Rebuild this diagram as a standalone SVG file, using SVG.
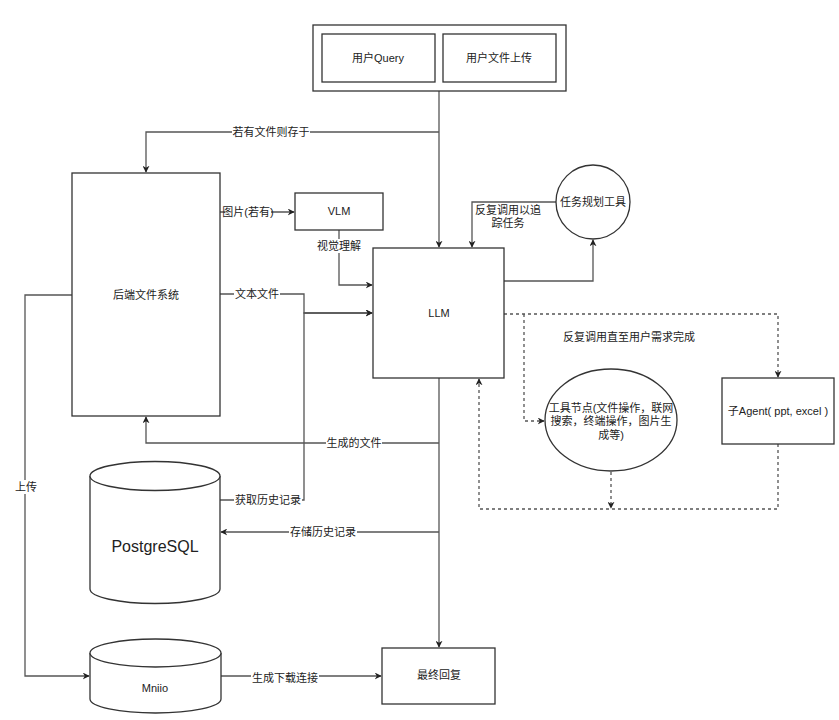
<svg xmlns="http://www.w3.org/2000/svg" width="839" height="720" viewBox="0 0 839 720">
<defs>
<marker id="arr" viewBox="0 0 10 10" refX="9" refY="5" markerWidth="7" markerHeight="7" orient="auto" markerUnits="userSpaceOnUse">
<path d="M0,0 L10,5 L0,10 L3,5 z" fill="#222"/>
</marker>
<style>
.n{fill:#fff;stroke:#333;stroke-width:1.3}
.t{font-family:"Liberation Sans","Noto Sans CJK SC",sans-serif;font-size:11px;fill:#222;text-anchor:middle;dominant-baseline:central}
.e{fill:none;stroke:#555;stroke-width:1.3}
.d{fill:none;stroke:#555;stroke-width:1.3;stroke-dasharray:3 3}
.lb{fill:#fff}
</style>
</defs>
<rect width="839" height="720" fill="#fff"/>
<g id="edges">
<path class="e" d="M439,91 V247" marker-end="url(#arr)"/>
<path class="e" d="M439,132 H146 V172" marker-end="url(#arr)"/>
<path class="e" d="M220,212 H294" marker-end="url(#arr)"/>
<path class="e" d="M339,230 V285 H372" marker-end="url(#arr)"/>
<path class="e" d="M220,294 H304 V313 H372" marker-end="url(#arr)"/>
<path class="e" d="M220,500 H304 V313 H372" marker-end="url(#arr)"/>
<path class="e" d="M504,281 H593 V240" marker-end="url(#arr)"/>
<path class="e" d="M556,202 H472 V247" marker-end="url(#arr)"/>
<path class="d" d="M504,314 H778 V377" marker-end="url(#arr)"/>
<path class="d" d="M524,314 V421 H544" marker-end="url(#arr)"/>
<path class="d" d="M611,472 V508" marker-end="url(#arr)"/>
<path class="d" d="M778,444 V509 H479 V379" marker-end="url(#arr)"/>
<path class="e" d="M439,378 V647" marker-end="url(#arr)"/>
<path class="e" d="M439,443 H146 V417" marker-end="url(#arr)"/>
<path class="e" d="M439,532 H221" marker-end="url(#arr)"/>
<path class="e" d="M72,295 H25 V676 H89" marker-end="url(#arr)"/>
<path class="e" d="M221,676 H381" marker-end="url(#arr)"/>
<rect class="lb" x="232" y="125" width="78" height="14"/>
<text class="t" x="271" y="132">若有文件则存于</text>
<rect class="lb" x="225" y="205" width="46" height="14"/>
<text class="t" x="248" y="212">图片(若有)</text>
<rect class="lb" x="316" y="239" width="46" height="14"/>
<text class="t" x="339" y="246">视觉理解</text>
<rect class="lb" x="234" y="287" width="46" height="14"/>
<text class="t" x="257" y="294">文本文件</text>
<rect class="lb" x="234" y="493" width="68" height="14"/>
<text class="t" x="268" y="500">获取历史记录</text>
<text class="t" x="508" y="210">反复调用以追</text>
<text class="t" x="508" y="223">踪任务</text>
<text class="t" x="629" y="337">反复调用直至用户需求完成</text>
<rect class="lb" x="326" y="436" width="56" height="14"/>
<text class="t" x="354" y="443">生成的文件</text>
<rect class="lb" x="289" y="525" width="68" height="14"/>
<text class="t" x="323" y="532">存储历史记录</text>
<rect class="lb" x="14" y="480" width="24" height="14"/>
<text class="t" x="26" y="487">上传</text>
<rect class="lb" x="251" y="671" width="68" height="14"/>
<text class="t" x="285" y="678">生成下载连接</text>
</g>
<g id="input">
<rect class="n" x="313" y="25" width="253" height="66"/>
</g>
<g id="query">
<rect class="n" x="322" y="34" width="113" height="48"/>
<text class="t" x="378" y="58">用户Query</text>
</g>
<g id="upload">
<rect class="n" x="443" y="34" width="113" height="48"/>
<text class="t" x="499" y="58">用户文件上传</text>
</g>
<g id="backend">
<rect class="n" x="72" y="173" width="148" height="243"/>
<text class="t" x="146" y="295">后端文件系统</text>
</g>
<g id="vlm">
<rect class="n" x="295" y="193" width="88" height="37"/>
<text class="t" x="339" y="211">VLM</text>
</g>
<g id="llm">
<rect class="n" x="373" y="248" width="131" height="130"/>
<text class="t" x="439" y="313">LLM</text>
</g>
<g id="planner">
<circle class="n" cx="593" cy="202" r="37"/>
<text class="t" x="593" y="202">任务规划工具</text>
</g>
<g id="tools">
<ellipse class="n" cx="611" cy="420" rx="66" ry="51"/>
<text class="t" x="611" y="408">工具节点(文件操作，联网</text>
<text class="t" x="611" y="421">搜索，终端操作，图片生</text>
<text class="t" x="611" y="435">成等)</text>
</g>
<g id="agent">
<rect class="n" x="722" y="378" width="112" height="66"/>
<text class="t" x="778" y="411">子Agent( ppt, excel )</text>
</g>
<g id="postgres">
<path class="n" d="M90,476 V589 A65,14.5 0 0 0 220,589 V476"/>
<ellipse class="n" cx="155" cy="476" rx="65" ry="14.5"/>
<text class="t" x="155" y="546" style="font-size:16px">PostgreSQL</text>
</g>
<g id="minio">
<path class="n" d="M90,653 V699 A65.5,14 0 0 0 221,699 V653"/>
<ellipse class="n" cx="155.5" cy="653" rx="65.5" ry="14"/>
<text class="t" x="155" y="688">Mniio</text>
</g>
<g id="final">
<rect class="n" x="382" y="648" width="113" height="56"/>
<text class="t" x="439" y="675">最终回复</text>
</g>
</svg>
